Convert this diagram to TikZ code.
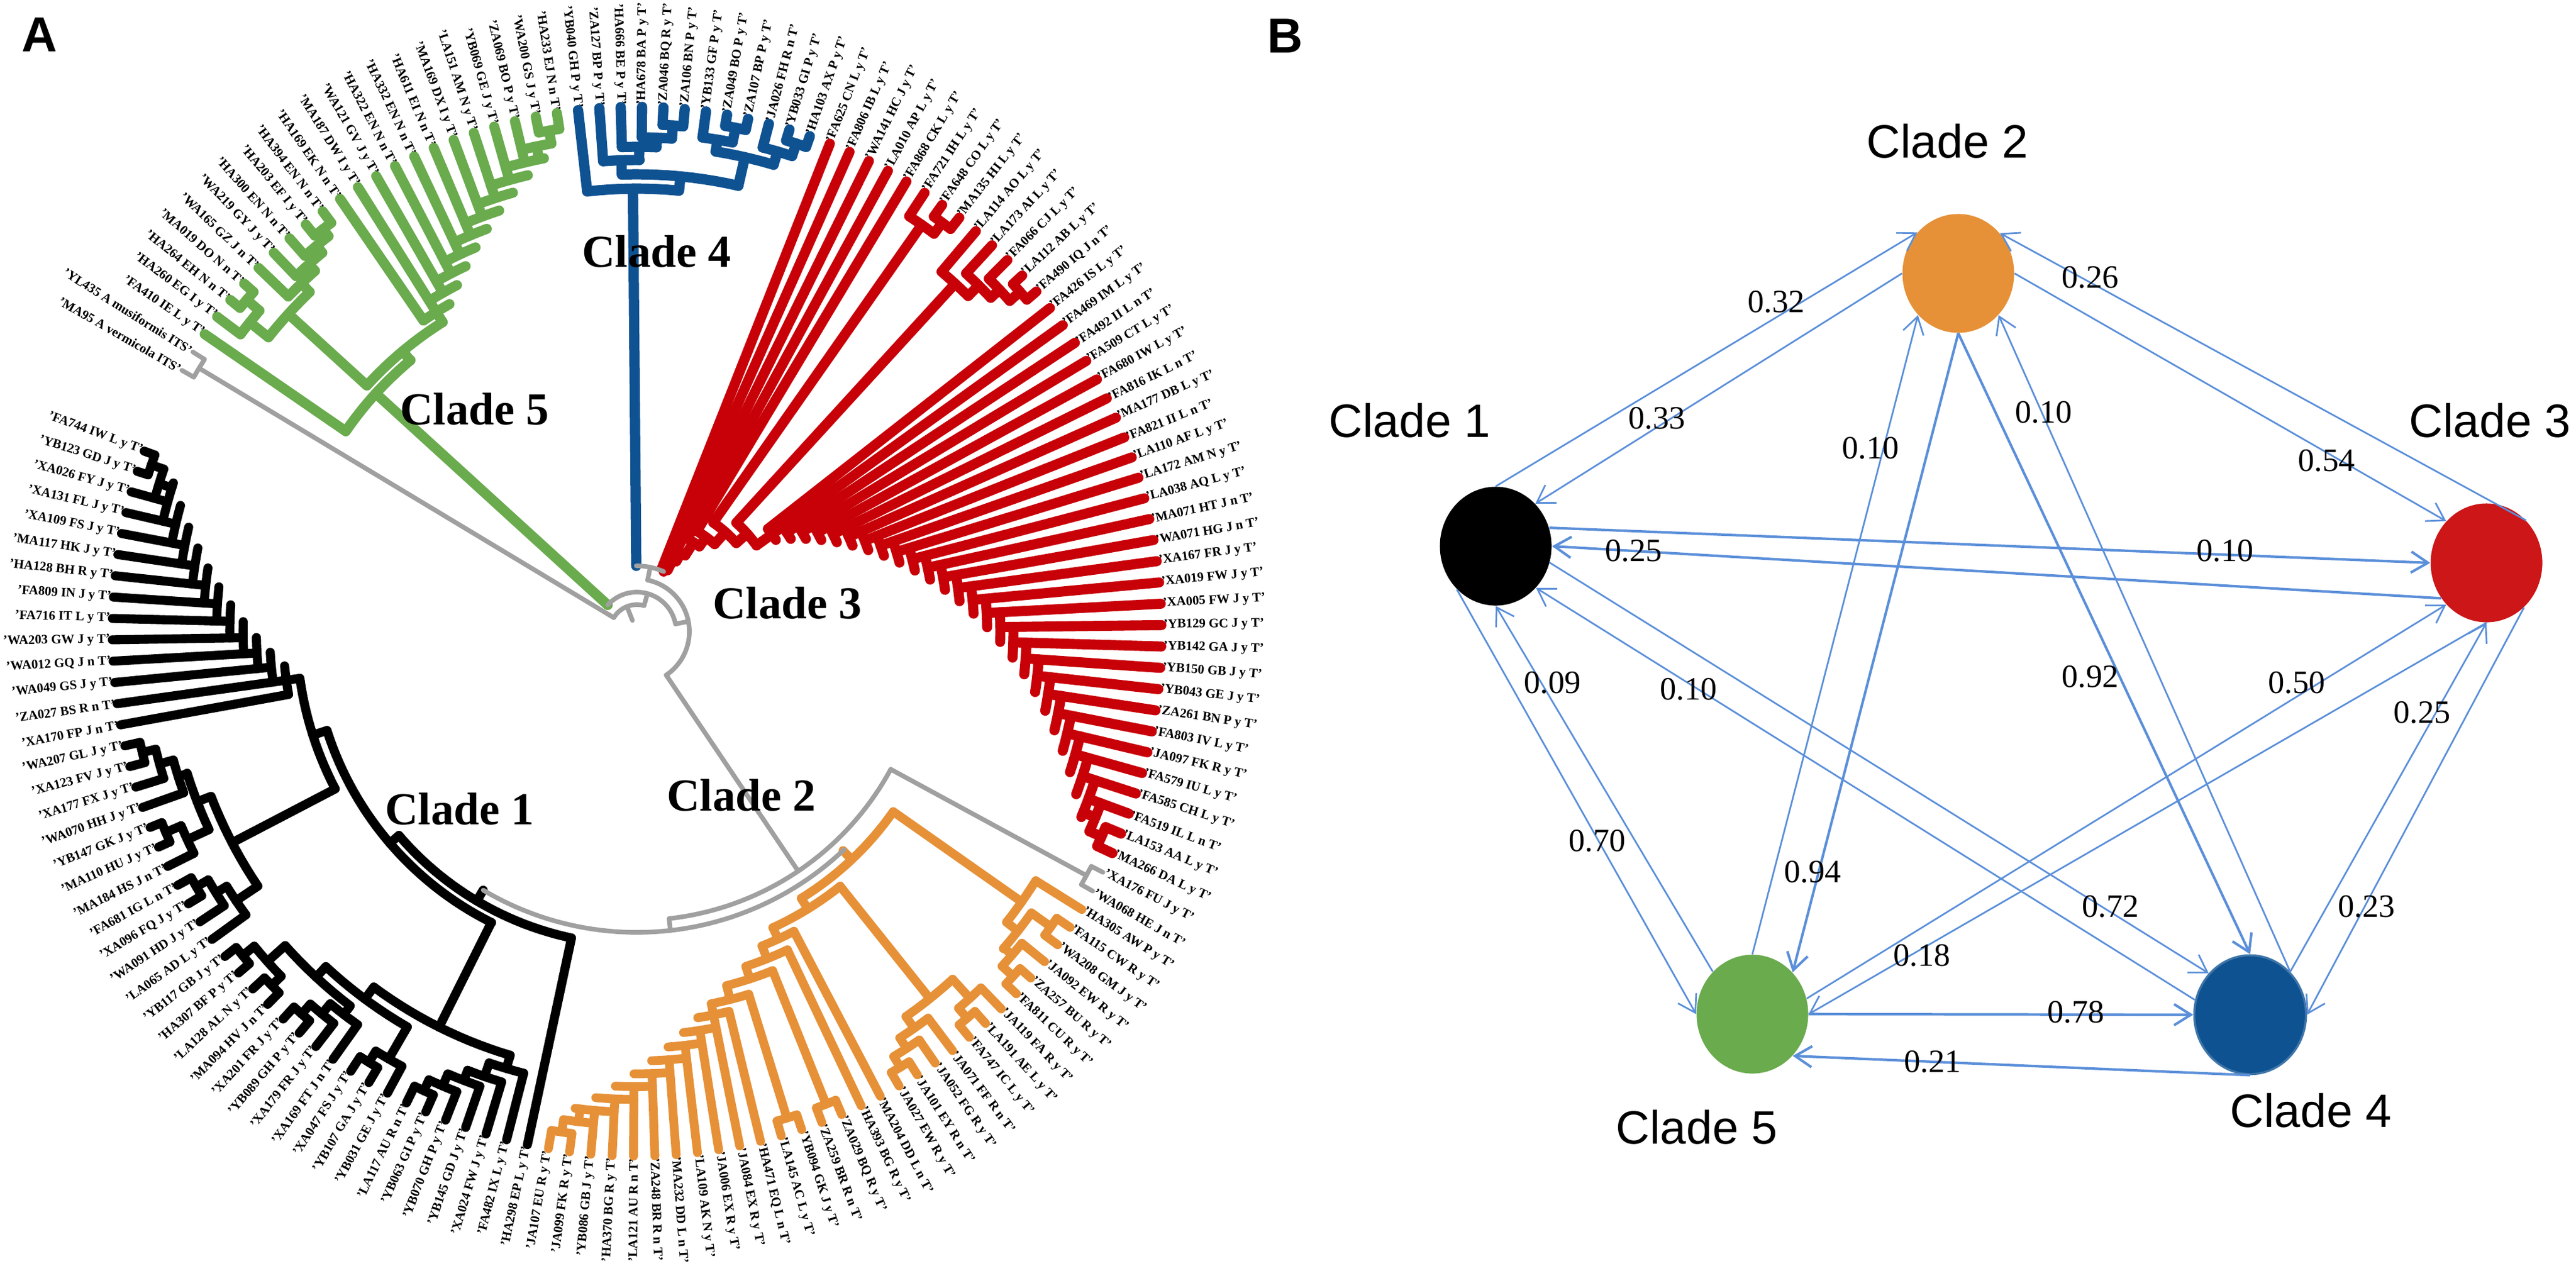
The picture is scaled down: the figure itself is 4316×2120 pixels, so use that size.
\documentclass[tikz,border=0pt]{standalone}
\usepackage{fontspec}
\setmainfont{Liberation Serif}
\setsansfont{Liberation Sans}
\usetikzlibrary{arrows.meta,shapes.geometric}
\definecolor{cladegreen}{HTML}{6AAB4E}
\definecolor{cladeblue}{HTML}{0F5292}
\definecolor{cladered}{HTML}{C80008}
\definecolor{cladeorange}{HTML}{E69138}
\definecolor{cladegrey}{HTML}{A0A0A0}
\definecolor{dotred}{HTML}{CC1618}
\definecolor{flowblue}{HTML}{5B8FD9}
\tikzset{declare function={tipang(\q)=-0.7+(\q-65)*2.335;}}
\newcommand{\tipr}{879}
% radial piece, from radius #1 to #2 at tip position #3
\newcommand{\clray}[3]{\draw ({(#1)*cos(tipang(#3))},{(#1)*sin(tipang(#3))}) -- ({(#2)*cos(tipang(#3))},{(#2)*sin(tipang(#3))});}
% arc at radius #1 from tip position #2 to #3
\newcommand{\clrim}[3]{%
  \pgfmathsetmacro{\rima}{tipang(#2)}%
  \pgfmathsetmacro{\rimb}{tipang(#3)}%
  \pgfmathtruncatemacro{\rims}{abs(\rimb-\rima)/1.5+2}%
  \draw plot[domain=\rima:\rimb,samples=\rims] ({(#1)*cos(\x)},{(#1)*sin(\x)});}
\newcommand{\clnode}[4]{\clrim{#2}{#3}{#4}\clray{#1}{#2}{((#3)+(#4))/2}}
\newcommand{\clstep}[4]{\clnode{#1}{#2}{#3}{#4}\clray{#2}{\tipr}{#3}}
\newcommand{\clpair}[3]{\clnode{#1}{#2}{#3}{(#3)+1}\clray{#2}{\tipr}{#3}\clray{#2}{\tipr}{(#3)+1}}
% ladder of arcs, one more leaf on each step
\newcommand{\clcomb}[4]{\foreach \k in {#1,...,#2}{%
    \pgfmathsetmacro{\rk}{#3+#4*(\k-#1)}%
    \clrim{\rk}{\k}{\k+2}\clray{\rk}{\tipr}{\k+1}}}
\begin{document}
\begin{tikzpicture}[
    x=0.01cm,y=-0.01cm,
    line join=round,
    tipR/.style={anchor=west,inner sep=0pt,node font=\bfseries\fontsize{6.2}{7}\selectfont},
    tipL/.style={anchor=east,inner sep=0pt,node font=\bfseries\fontsize{6.2}{7}\selectfont},
    branch/.style={line cap=round},
    treename/.style={node font=\bfseries\fontsize{21.8}{24}\selectfont},
    panel/.style={node font=\sffamily\bfseries\fontsize{23.4}{26}\selectfont},
    cladedot/.style={ellipse,inner sep=0pt,minimum width=1.87cm,minimum height=1.99cm},
    dotname/.style={node font=\sffamily\fontsize{22.3}{25}\selectfont},
    rate/.style={node font=\fontsize{15.5}{18}\selectfont},
    flow/.style={draw=flowblue,line width=0.8pt,-{Straight Barb[length=8pt,width=10pt]}},
    flowheavy/.style={flow,line width=1.2pt},
  ]
  \useasboundingbox (0,0) rectangle (4316,2120);
  \node[panel] (panelA) at (66,58) {A};
  \node[panel] (panelB) at (2153,60) {B};

  % Tree
  \begin{scope}[shift={(1067,1058)},branch]
    % tip labels
    \foreach \lab [count=\n] in {
      'MA95 A vermicola ITS','YL435 A musiformis ITS',
      'FA410 IE L y T','HA260 EG I y T','HA264 EH N n T','MA019 DO N n T','WA165 GZ J n T','WA219 GY J y T',
      'HA300 EN N n T','HA203 EF I y T','HA394 EN N n T','HA169 EK N n T','MA187 DW I y T','WA121 GV J y T',
      'HA322 EN N n T','HA332 EN N n T','HA611 EI N n T','MA169 DX I y T','LA151 AM N y T','YB069 GE J y T',
      'ZA069 BO P y T','WA200 GS J y T','HA233 EJ N n T',
      'YB040 GH P y T','ZA127 BP P y T','HA666 BE P y T','HA678 BA P y T','ZA046 BQ R y T','ZA106 BN P y T',
      'YB133 GF P y T','ZA049 BO P y T','ZA107 BP P y T','JA026 FH R n T','YB033 GI P y T','HA103 AX P y T',
      'FA625 CN L y T','FA806 IB L y T','WA141 HC J y T','LA010 AP L y T','FA868 CK L y T','FA721 IH L y T',
      'FA648 CO L y T','MA135 HI L y T','LA114 AO L y T','LA173 AI L y T','FA066 CJ L y T','LA112 AB L y T',
      'FA490 IQ J n T','FA426 IS L y T','FA469 IM L y T','FA492 II L n T','FA509 CT L y T','FA680 IW L y T',
      'FA816 IK L n T','MA177 DB L y T','FA821 II L n T','LA110 AF L y T','LA172 AM N y T','LA038 AQ L y T',
      'MA071 HT J n T','WA071 HG J n T','XA167 FR J y T','XA019 FW J y T','XA005 FW J y T','YB129 GC J y T',
      'YB142 GA J y T','YB150 GB J y T','YB043 GE J y T','ZA261 BN P y T','FA803 IV L y T','JA097 FK R y T',
      'FA579 IU L y T','FA585 CH L y T','FA519 IL L n T','LA153 AA L y T','MA266 DA L y T',
      'XA176 FU J y T','WA068 HE J n T',
      'HA305 AW P y T','FA115 CW R y T','WA208 GM J y T','JA092 EW R y T','ZA257 BU R y T','FA811 CU R y T',
      'JA119 FA R y T','LA191 AE L y T','FA747 IC L y T','JA071 FF R n T','JA052 FG R y T','JA101 EY R n T',
      'JA027 EW R y T','MA204 DD L n T','HA393 BG R y T','ZA029 BQ R y T','ZA259 BR R n T','YB094 GK J y T',
      'LA145 AC L y T','HA471 EQ L n T','JA084 EX R y T','JA006 EX R y T','LA109 AK N y T','MA232 DD L n T',
      'ZA248 BR R n T','LA121 AU R n T','HA370 BG R y T','YB086 GB J y T','JA099 FK R y T','JA107 EU R y T',
      'HA298 EP L y T','FA482 IX L y T','XA024 FW J y T','YB145 GD J y T','YB070 GH P y T','YB063 GI P y T',
      'LA117 AU R n T','YB031 GE J y T','YB107 GA J y T','XA047 FS J y T','XA169 FT J n T','XA179 FR J y T',
      'YB089 GH P y T','XA201 FR J y T','MA094 HV J n T','LA128 AL N y T','HA307 BF P y T','YB117 GB J y T',
      'LA065 AD L y T','WA091 HD J y T','XA096 FQ J y T','FA681 IG L n T','MA184 HS J n T','MA110 HU J y T',
      'YB147 GK J y T','WA070 HH J y T','XA177 FX J y T','XA123 FV J y T','WA207 GL J y T','XA170 FP J n T',
      'ZA027 BS R n T','WA049 GS J y T','WA012 GQ J n T','WA203 GW J y T','FA716 IT L y T','FA809 IN J y T',
      'HA128 BH R y T','MA117 HK J y T','XA109 FS J y T','XA131 FL J y T','XA026 FY J y T','YB123 GD J y T',
      'FA744 IW L y T'}{
      \pgfmathsetmacro{\a}{tipang(\n)}
      \ifnum\n>26 \ifnum\n<104
          \node[tipR,rotate=-\a] (tip\n) at ({882*cos(\a)},{882*sin(\a)}) {\lab};
        \else
          \node[tipL,rotate=180-\a] (tip\n) at ({882*cos(\a)},{882*sin(\a)}) {\lab};
        \fi
      \else
        \node[tipL,rotate=180-\a] (tip\n) at ({882*cos(\a)},{882*sin(\a)}) {\lab};
      \fi
    }

    % Clade 5
    \begin{scope}[color=cladegreen,line width=4.8pt]
      \clstep{66}{592}{3}{9.7}
      \clnode{592}{612}{6.35}{13}
      \clnode{612}{790}{4.75}{7.94}
      \clstep{790}{830}{4}{5.5}
      \clpair{830}{858}{5}
      \clstep{790}{810}{7}{8.875}
      \clstep{810}{825}{8}{9.75}
      \clstep{825}{840}{9}{10.5}
      \clpair{840}{855}{10}
      \clray{612}{632}{13}
      \clray{632}{\tipr}{12}
      \clcomb{12}{20}{632}{22}
      \clnode{808}{830}{21}{22.5}
      \clpair{830}{852}{22}
    \end{scope}

    % Clade 4
    \begin{scope}[color=cladeblue,line width=4.9pt]
      \clstep{110}{742}{24}{29.08}
      \clnode{742}{766}{25.95}{32.25}
      \clstep{766}{790}{25}{26.9}
      \clstep{790}{812}{26}{27.75}
      \clstep{812}{828}{27}{28.5}
      \clpair{828}{850}{28}
      \clnode{766}{815}{30.75}{33.75}
      \clstep{815}{835}{30}{31.5}
      \clpair{835}{860}{31}
      \clstep{815}{838}{33}{34.5}
      \clpair{838}{860}{34}
    \end{scope}

    % Clade 3
    \begin{scope}[color=cladered,line width=4.8pt]
      \clstep{110}{115}{36}{38.16}
      \clstep{115}{135}{37}{39.33}
      \clstep{135}{151}{38}{40.65}
      \clstep{151}{177}{39}{42.3}
      \clstep{177}{196}{40}{44.61}
      \clnode{196}{223}{41.75}{47.47}
      \clstep{223}{832}{41}{42.5}
      \clpair{832}{855}{42}
      \clnode{223}{247}{44.94}{50}
      \clstep{247}{790}{44}{45.875}
      \clstep{790}{815}{45}{46.75}
      \clstep{815}{835}{46}{47.5}
      \clpair{835}{858}{47}
      \clray{247}{279}{50}
      \clray{279}{\tipr}{49}
      \clcomb{49}{73}{279}{22}
      \clnode{807}{829}{74}{75.5}
      \clpair{829}{851}{75}
    \end{scope}

    % Clade 2
    \begin{scope}[color=cladeorange,line width=4.2pt]
      \clnode{504}{525}{80.33}{90.29}
      \clstep{525}{788}{79}{81.65}
      \clnode{788}{812}{80.5}{82.8}
      \clpair{812}{852}{80}
      \clstep{812}{830}{82}{83.5}
      \clpair{830}{855}{83}
      \clnode{525}{546}{87.3}{93.28}
      \clnode{546}{787}{85.75}{88.875}
      \clstep{787}{830}{85}{86.5}
      \clpair{830}{852}{86}
      \clstep{787}{811}{88}{89.75}
      \clstep{811}{832}{89}{90.5}
      \clpair{832}{853}{90}
      \clstep{546}{567}{92}{94.55}
      \clstep{567}{590}{93}{96.1}
      \clnode{590}{612}{94.5}{97.75}
      \clpair{612}{853}{94}
      \clnode{612}{636}{96.5}{99}
      \clpair{636}{853}{96}
      \clstep{636}{655}{98}{100}
      \clcomb{98}{105}{655}{21.5}
      \clnode{805.5}{827}{106}{107.5}
      \clpair{827}{848}{107}
    \end{scope}

    % Clade 1
    \begin{scope}[color=black,line width=4.3pt]
      \clstep{504}{525}{109}{125}
      \clnode{525}{545}{115.2}{134.8}
      \clnode{545}{741}{110.97}{119.475}
      \clstep{741}{764}{110}{111.94}
      \clstep{764}{788}{111}{112.875}
      \clstep{788}{806}{112}{113.75}
      \clstep{806}{828}{113}{114.5}
      \clpair{828}{848}{114}
      \clnode{741}{766}{116.75}{122.2}
      \clstep{766}{828}{116}{117.5}
      \clpair{828}{850}{117}
      \clnode{766}{790}{119.9}{124.5}
      \clstep{790}{808}{119}{120.75}
      \clstep{808}{830}{120}{121.5}
      \clpair{830}{852}{121}
      \clnode{790}{830}{123.5}{125.5}
      \clpair{830}{852}{123}
      \clpair{830}{855}{125}
      \clnode{545}{570}{130.6}{139}
      \clnode{570}{765}{127.875}{133.3}
      \clstep{765}{809}{127}{128.75}
      \clstep{809}{830}{128}{129.5}
      \clpair{830}{853}{129}
      \clnode{765}{790}{131.75}{134.9}
      \clstep{790}{830}{131}{132.5}
      \clpair{830}{858}{132}
      \clstep{790}{806}{134}{135.75}
      \clstep{806}{830}{135}{136.5}
      \clpair{830}{853}{136}
      \clray{570}{593}{139}
      \clray{593}{\tipr}{138}
      \clcomb{138}{148}{593}{22.25}
      \clnode{815.5}{838}{149}{150.5}
      \clpair{838}{860}{150}
    \end{scope}

    % backbone
    \begin{scope}[color=cladegrey,line width=2.2pt]
      \clnode{88}{110}{26.54}{37.08}
      \clnode{66}{88}{31.81}{89.3}
      \clnode{45}{66}{6.35}{60.55}
      \clnode{20}{45}{1.5}{33.45}
      \clray{45}{856}{1.5}
      \clrim{856}{1}{2}
      \clray{856}{\tipr}{1}
      \clray{856}{\tipr}{2}
      \clnode{88}{484}{77.5}{101.1}
      \clpair{484}{857}{77}
      \clnode{484}{504}{85.2}{117}
    \end{scope}
  \end{scope}

  \node[treename] (name5) at (795,685) {Clade 5};
  \node[treename] (name4) at (1100,421) {Clade 4};
  \node[treename] (name3) at (1319,1010) {Clade 3};
  \node[treename] (name2) at (1242,1332) {Clade 2};
  \node[treename] (name1) at (770,1355) {Clade 1};

  % Network
  \node[cladedot,fill=black] (dot1) at (2506,915) {};
  \node[cladedot,fill=cladeorange] (dot2) at (3281,458) {};
  \node[cladedot,fill=dotred] (dot3) at (4166,943) {};
  \node[cladedot,fill=cladeblue,draw=cladeblue!80!white,line width=1pt] (dot4) at (3770,1700) {};
  \node[cladedot,fill=cladegreen] (dot5) at (2936,1699) {};
  \node[dotname] (label1) at (2362,704) {Clade 1};
  \node[dotname] (label2) at (3263,236) {Clade 2};
  \node[dotname] (label3) at (4172,704) {Clade 3};
  \node[dotname] (label4) at (3872,1860) {Clade 4};
  \node[dotname] (label5) at (2843,1888) {Clade 5};

  \foreach \from/\to in {dot1.90/dot2.135,dot2.180/dot1.47,dot2.0/dot3.134,dot3.47/dot2.44,
      dot5.90/dot2.226,dot4.47/dot2.314,dot1.-17/dot4.135,dot4.165/dot1.314,
      dot1.228/dot5.180,dot5.133/dot1.270,dot5.16/dot3.226,dot3.270/dot5.0,
      dot4.47/dot3.270,dot3.310/dot4.0}
    \draw[flow] (\from) -- (\to);
  \foreach \from/\to in {dot1.19/dot3.180,dot3.218/dot1.0,dot2.270/dot5.46,dot2.270/dot4.90,
      dot5.0/dot4.180,dot4.270/dot5.314}
    \draw[flowheavy] (\from) -- (\to);

  \foreach \x/\y/\val [count=\i] in {2976/506/0.32,3502/465/0.26,2776/701/0.33,3134/751/0.10,
      3424/691/0.10,3898/772/0.54,2737/923/0.25,3728/923/0.10,2601/1144/0.09,2829/1155/0.10,
      3502/1134/0.92,3848/1144/0.50,4058/1194/0.25,2676/1409/0.70,3037/1461/0.94,3536/1519/0.72,
      3965/1519/0.23,3220/1601/0.18,3478/1696/0.78,3238/1779/0.21}
    \node[rate] (rate\i) at (\x,\y) {\val};
\end{tikzpicture}
\end{document}
